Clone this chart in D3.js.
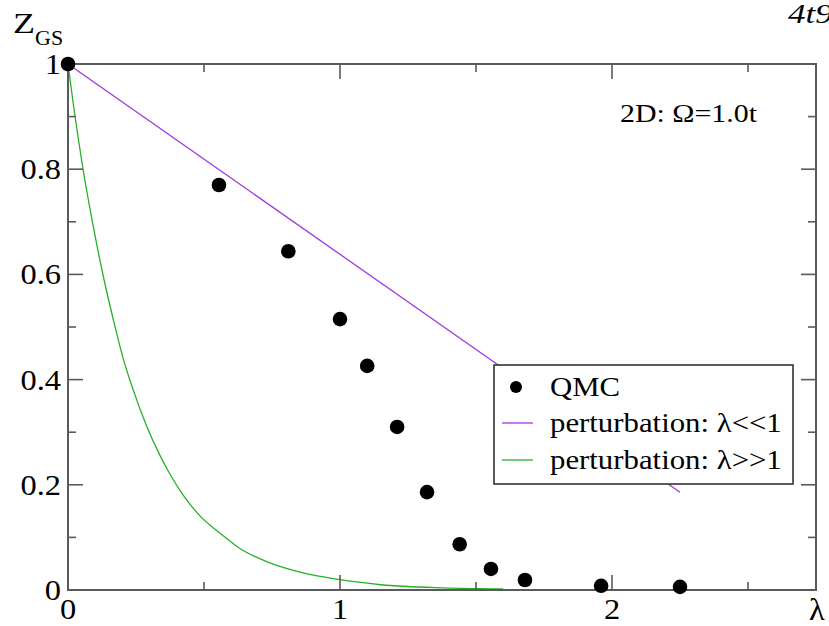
<!DOCTYPE html>
<html><head><meta charset="utf-8">
<script src="https://cdn.jsdelivr.net/npm/d3@7"></script>
<style>body{margin:0;background:#fff;} svg{display:block;} text{font-family:"Liberation Serif","DejaVu Serif",serif;}</style>
</head><body>
<svg id="c" width="829" height="626"></svg>
<script>
const qmcX = [0, 0.555, 0.81, 1.0, 1.10, 1.21, 1.32, 1.44, 1.555, 1.68, 1.96, 2.25];
const qmcY = [1.0, 0.770, 0.644, 0.515, 0.426, 0.310, 0.186, 0.087, 0.040, 0.019, 0.008, 0.006];
const smallX = [0, 2.25];
const smallY = [1.0, 0.186];
const largeX = [0, 0.02, 0.056, 0.093, 0.13, 0.167, 0.203, 0.24, 0.289, 0.338, 0.375, 0.424, 0.485, 0.559, 0.632, 0.73, 0.853, 0.994, 1.15, 1.38, 1.6];
const largeY = [1.0, 0.922, 0.798, 0.691, 0.596, 0.513, 0.440, 0.380, 0.312, 0.256, 0.220, 0.180, 0.141, 0.108, 0.079, 0.054, 0.034, 0.020, 0.010, 0.004, 0.002];
const xMajor = [0, 1, 2];
const xMinor = [0.5, 1.5, 2.5];
const yMajor = [0, 0.2, 0.4, 0.6, 0.8, 1];
const yMinor = [0.1, 0.3, 0.5, 0.7, 0.9];
const legendLabels = ["QMC", "perturbation: \u03bb<<1", "perturbation: \u03bb>>1"];
const colors = {axis: "#5a5a5a", small: "#a235e2", large: "#25b025"};

const svg = d3.select("#c");
const L = 68, R = 816, T = 64, B = 590;
const x = d3.scaleLinear().domain([0, 2.75]).range([L, R]);
const y = d3.scaleLinear().domain([0, 1]).range([B, T]);

function txt(px, py, str, size, anchor, sx, italic) {
  const t = svg.append("text")
    .attr("transform", `translate(${px},${py}) scale(${sx || 1},1)`)
    .attr("font-size", size).attr("text-anchor", anchor || "start").text(str);
  if (italic) t.attr("font-style", "italic");
  return t;
}

// lines
const line = d3.line().x(d => x(d[0])).y(d => y(d[1]));
svg.append("path").datum(smallX.map((v,i)=>[v, smallY[i]]))
  .attr("d", line).attr("fill","none").attr("stroke",colors.small).attr("stroke-width",1.3);
svg.append("path").datum(largeX.map((v,i)=>[v, largeY[i]])).attr("d", d3.line().curve(d3.curveMonotoneX).x(d=>x(d[0])).y(d=>y(d[1])))
  .attr("fill","none").attr("stroke",colors.large).attr("stroke-width",1.3);

// frame
svg.append("rect").attr("x",L).attr("y",T).attr("width",R-L).attr("height",B-T)
  .attr("fill","none").attr("stroke",colors.axis).attr("stroke-width",2);

// ticks
function ticks(vals, len) {
  vals.forEach(v => {
    svg.append("line").attr("x1",x(v)).attr("x2",x(v)).attr("y1",B).attr("y2",B-len).attr("stroke",colors.axis).attr("stroke-width",1.6);
    svg.append("line").attr("x1",x(v)).attr("x2",x(v)).attr("y1",T).attr("y2",T+len).attr("stroke",colors.axis).attr("stroke-width",1.6);
  });
}
function yticks(vals, len) {
  vals.forEach(v => {
    svg.append("line").attr("y1",y(v)).attr("y2",y(v)).attr("x1",L).attr("x2",L+len).attr("stroke",colors.axis).attr("stroke-width",1.6);
    svg.append("line").attr("y1",y(v)).attr("y2",y(v)).attr("x1",R).attr("x2",R-len).attr("stroke",colors.axis).attr("stroke-width",1.6);
  });
}
ticks(xMajor, 15); ticks(xMinor, 8);
yticks(yMajor, 15); yticks(yMinor, 8);

// tick labels
xMajor.forEach(d => txt(x(d), 619, String(d), 29, "middle", 1.12));
yMajor.forEach(d => txt(61, y(d) + 10, d === 0 || d === 1 ? String(d) : d.toFixed(1), 29, "end", 1.12));

// axis titles
txt(817, 620, "\u03bb", 31, "middle", 1.05);
txt(13, 33, "Z", 30, "start", 1.2);
txt(35, 45, "GS", 22, "start", 1.0);

txt(620, 122, "2D: \u03a9=1.0t", 26, "start", 1.15);
txt(788, 23, "4t9", 28, "start", 1.25, true);

// QMC points
svg.selectAll(".pt").data(qmcX.map((v,i)=>[v, qmcY[i]])).enter().append("circle")
  .attr("cx", d => x(d[0])).attr("cy", d => y(d[1])).attr("r", 7.3).attr("fill","#000");

// legend
svg.append("rect").attr("x",494).attr("y",365).attr("width",299).attr("height",119)
  .attr("fill","#fff").attr("stroke","#333").attr("stroke-width",1.6);
const ly = [387, 423, 460];
svg.append("circle").attr("cx",516).attr("cy",ly[0]).attr("r",6).attr("fill","#000");
svg.append("line").attr("x1",502).attr("x2",533).attr("y1",ly[1]).attr("y2",ly[1]).attr("stroke",colors.small).attr("stroke-width",1.3);
svg.append("line").attr("x1",502).attr("x2",533).attr("y1",ly[2]).attr("y2",ly[2]).attr("stroke",colors.large).attr("stroke-width",1.3);
legendLabels.forEach((t,i) => txt(550, ly[i]+9, t, 28, "start", 1.1));
</script>
</body></html>
